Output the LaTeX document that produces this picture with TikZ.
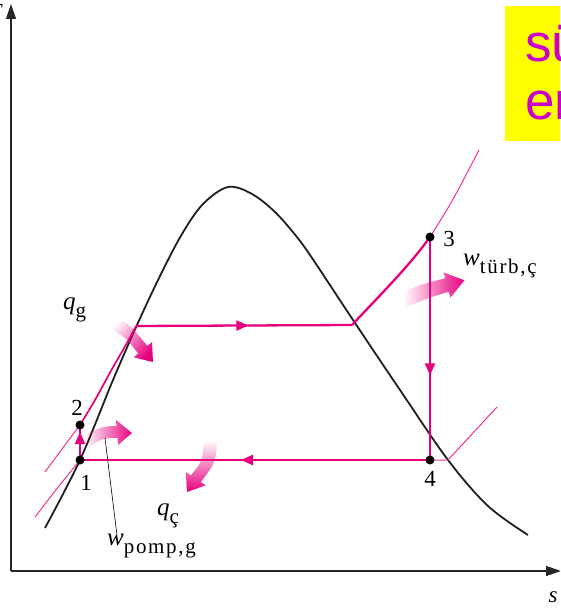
\documentclass[tikz,border=0pt]{standalone}
\usepackage{xcolor}
\usepackage{amsmath}
\usepackage{fontspec}
\setmainfont{Liberation Serif}
\newfontfamily\notefont{Liberation Sans}
\newfontfamily\subfam[LetterSpace=8]{Liberation Serif}
\usepackage{tikz}
\usetikzlibrary{arrows.meta,decorations.markings,fadings}

\definecolor{cyclepink}{RGB}{230,0,126}
\definecolor{isopink}{RGB}{240,50,150}
\definecolor{notepurple}{RGB}{204,0,204}

\newcommand{\lblsub}[1]{\raisebox{-8pt}{\subfam\fontsize{21}{22}\selectfont #1}}

\tikzset{
  process/.style={draw=cyclepink, line width=2.3pt},
  isobar/.style={draw=isopink, line width=1pt},
  midarrow/.style={postaction={decorate}, decoration={markings, mark=at position #1 with {\arrow{Triangle[length=12pt,width=10pt]}}}},
  axisline/.style={line width=1.3pt, draw=black!85, -{Triangle[length=15pt,width=10pt]}},
  statelbl/.style={inner sep=0pt, font=\fontsize{23}{25}\selectfont},
  quantlbl/.style={anchor=base west, inner sep=0pt, font=\fontsize{25}{27}\selectfont},
}

\begin{document}
\begin{tikzpicture}[x=1pt,y=1pt,yscale=-1,xscale=1]
            \useasboundingbox (0,0) rectangle (560,609);
            \clip (0,0) rectangle (560,609);

            %Shape: Rectangle
            \fill [color={rgb, 255:red, 255; green, 255; blue, 0 }] (505,6) rectangle (580,141);
            % Text Node
            \draw (525,62) node [anchor=base west][inner sep=0pt] [font=\notefont\fontsize{53}{58}\selectfont, text=notepurple] (notetop) {sü};
            % Text Node
            \draw (525,120) node [anchor=base west][inner sep=0pt] [font=\notefont\fontsize{53}{58}\selectfont, text=notepurple] (notebot) {en};

            %Straight Lines
            \coordinate (org) at (11,571);
            \coordinate (tend) at (11,4);
            \coordinate (send) at (561,571);
            \draw [axisline] (org) -- (tend);
            \draw [axisline] (org) -- (send);

            %Curve Lines (saturation dome)
            \draw [line width=1.8pt, color=black!88] plot [smooth, tension=0.55] coordinates {(45,528) (80,460) (113,380) (137,325) (160,276) (182,234) (203,204) (228,187) (252,194) (276,213) (300,241) (320,270) (353,320) (400,390) (448,460) (488,506) (528,535)};

            \coordinate (p1) at (80,460);
            \coordinate (p2) at (80,425);
            \coordinate (pf) at (136,326);
            \coordinate (pg) at (352,325);
            \coordinate (p3) at (430,237);
            \coordinate (p4) at (430,460);

            %Curve Lines (isobars)
            \draw [isobar] plot [smooth] coordinates {(45,472) (62,449) (p2)};
            \draw [isobar] (p1) .. controls (62,482) and (48,500) .. (35,517);
            \draw [isobar] (p3) .. controls (452,202) .. (479,150);
            \draw [isobar] (p4) -- (448,460) -- (497,407);

            %Cycle
            \draw [process, line width=1.7pt] plot [smooth] coordinates {(p2) (95,400) (112,369) (127,343) (pf)};
            \draw [process, midarrow=0.52] (pf) -- (pg);
            \draw [process] (pg) .. controls (382,293) and (410,265) .. (p3);
            \draw [process, midarrow=0.62] (p3) -- (p4);
            \draw [process, midarrow=0.54] (p4) -- (p1);
            \draw [process, line width=1.7pt, midarrow=0.8] (p1) -- (p2);

            %Shape: Circle
            \fill (p1) circle (4.5);
            \fill (p2) circle (4.5);
            \fill (p3) circle (4.5);
            \fill (p4) circle (4.5);

            %Heat and work arrows
            \fill [cyclepink, path fading=west, fading angle=-45] (116,316) .. controls (130,325) .. (147.4,345.9) -- (152,342) -- (153,362) -- (133.6,357.4) -- (138.2,353.5) .. controls (126,338) .. (110,328) -- cycle;
            \fill [cyclepink, path fading=north] (217,440) .. controls (216,462) .. (200.8,482) -- (205.8,485.3) -- (187,492) -- (185.8,472.1) -- (190.8,475.4) .. controls (202,462) .. (204,440) -- cycle;
            \fill [cyclepink, path fading=west] (403,292) .. controls (420,284) and (435,281) .. (445.2,278.2) -- (443.6,272.4) -- (464.4,280.3) -- (450.4,297.6) -- (448.8,291.8) .. controls (437,295) and (422,300) .. (407,307) -- cycle;
            \fill [cyclepink, path fading=west] (84,436) .. controls (95,428) and (105,426) .. (116.5,426) -- (116,420) -- (132,433) -- (118,445) -- (117.5,438) .. controls (105,437) and (96,441) .. (88,448) -- cycle;

            % Text Node
            \draw (449,239) node [statelbl] (lbl3) {3};
            % Text Node
            \draw (430,479) node [statelbl] (lbl4) {4};
            % Text Node
            \draw (77,408) node [statelbl] (lbl2) {2};
            % Text Node
            \draw (86,483) node [statelbl] (lbl1) {1};
            % Text Node
            \draw (63,309) node [quantlbl] (qin) {\textit{q}\lblsub{g}};
            % Text Node
            \draw (157,515) node [quantlbl] (qout) {\textit{q}\lblsub{ç}};
            % Text Node
            \draw (463,265) node [quantlbl] (wturb) {\textit{w}\lblsub{türb,ç}};
            % Text Node
            \draw (107,545) node [quantlbl] (wpump) {\textit{w}\lblsub{pomp,g}};
            % Text Node
            \draw (553,597) node [statelbl] (saxis) {\textit{s}};
            % Text Node
            \draw (3,12) node [statelbl, anchor=east] (taxis) {\textit{T}};

            %Straight Lines (leader)
            \coordinate (wpumptip) at (105,438);
            \draw [line width=0.6pt] (wpumptip) -- ([xshift=10pt,yshift=2pt]wpump.north west);
\end{tikzpicture}
\end{document}
